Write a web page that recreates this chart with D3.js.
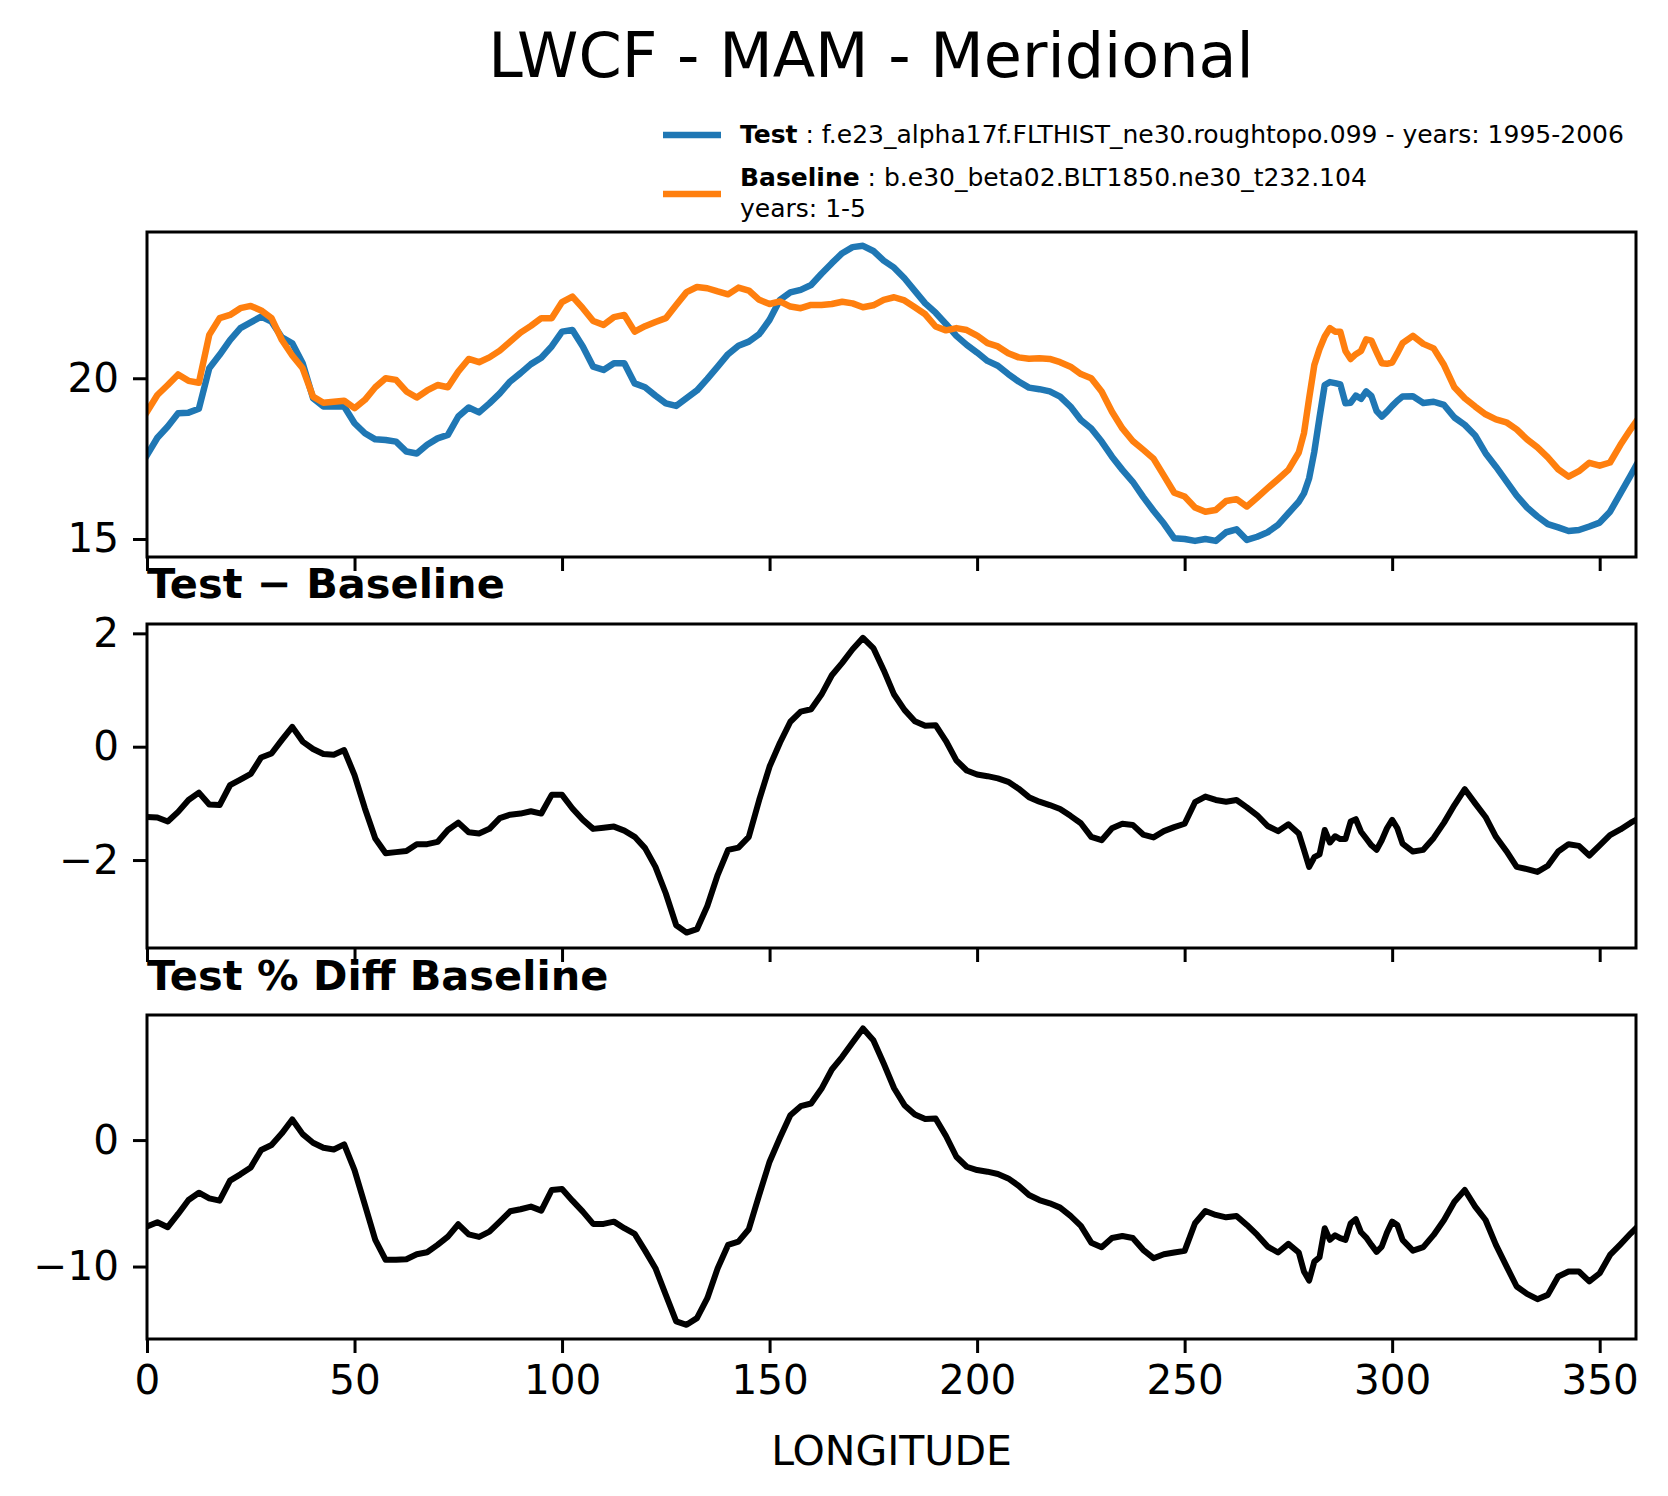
<!DOCTYPE html>
<html>
<head>
<meta charset="utf-8">
<script src="https://cdn.jsdelivr.net/npm/d3@7"></script>
<style>
  html, body { margin: 0; padding: 0; background: #ffffff; }
  svg { display: block; }
  text { font-family: "DejaVu Sans", sans-serif; fill: #000; }
</style>
</head>
<body>
<div id="chart"></div>
<script>
// ---------------- DATA ----------------
const lon = [
  0, 2.5, 5, 7.5, 10, 12.5, 15, 17.5, 20, 22.5,
  25, 27.5, 30, 32.5, 35, 37.5, 40, 42.5, 45, 47.5,
  50, 52.5, 55, 57.5, 60, 62.5, 65, 67.5, 70, 72.5,
  75, 77.5, 80, 82.5, 85, 87.5, 90, 92.5, 95, 97.5,
  100, 102.5, 105, 107.5, 110, 112.5, 115, 117.5, 120, 122.5,
  125, 127.5, 130, 132.5, 135, 137.5, 140, 142.5, 145, 147.5,
  150, 152.5, 155, 157.5, 160, 162.5, 165, 167.5, 170, 172.5,
  175, 177.5, 180, 182.5, 185, 187.5, 190, 192.5, 195, 197.5,
  200, 202.5, 205, 207.5, 210, 212.5, 215, 217.5, 220, 222.5,
  225, 227.5, 230, 232.5, 235, 237.5, 240, 242.5, 245, 247.5,
  250, 252.5, 255, 257.5, 260, 262.5, 265, 267.5, 270, 272.5,
  275,
  277.5, 278.75, 280, 281.25, 282.5, 283.75, 285, 286.25, 287.5, 288.75,
  290, 291.25, 292.5, 293.75, 295, 296.25, 297.5, 298.75, 300, 301.25,
  302.5,
  305, 307.5, 310, 312.5, 315, 317.5, 320, 322.5, 325, 327.5,
  330, 332.5, 335, 337.5, 340, 342.5, 345, 347.5, 350, 352.5,
  355, 357.5, 358.75
];

const testVals = [
  17.61, 18.15, 18.50, 18.91, 18.93, 19.05, 20.31, 20.73, 21.19, 21.56,
  21.74, 21.92, 21.76, 21.27, 21.09, 20.47, 19.38, 19.12, 19.12, 19.12,
  18.60, 18.29, 18.10, 18.08, 18.03, 17.72, 17.66, 17.93, 18.13, 18.24,
  18.81, 19.09, 18.94, 19.22, 19.53, 19.90, 20.16, 20.44, 20.64, 20.99,
  21.45, 21.50, 20.99, 20.36, 20.26, 20.47, 20.47, 19.84, 19.72, 19.46,
  19.22, 19.14, 19.38, 19.62, 19.98, 20.36, 20.75, 21.01, 21.14, 21.37,
  21.82, 22.44, 22.67, 22.75, 22.90, 23.25, 23.58, 23.89, 24.08, 24.12,
  23.96, 23.66, 23.44, 23.11, 22.72, 22.33, 22.04, 21.69, 21.32, 21.04,
  20.80, 20.54, 20.39, 20.13, 19.90, 19.71, 19.66, 19.59, 19.43, 19.12,
  18.70, 18.44, 18.03, 17.56, 17.15, 16.78, 16.31, 15.88, 15.48, 15.02,
  15.00, 14.94, 15.00, 14.94, 15.21, 15.30, 14.97, 15.07, 15.21, 15.44,
  15.80,
  16.16, 16.42, 16.89, 17.72, 18.78, 19.79, 19.88, 19.85, 19.81, 19.22,
  19.24, 19.46, 19.36, 19.59, 19.45, 18.98, 18.81, 18.96, 19.14, 19.30,
  19.43,
  19.44, 19.23, 19.27, 19.17, 18.78, 18.55, 18.22, 17.67, 17.25, 16.80,
  16.35, 15.98, 15.70, 15.46, 15.36, 15.25, 15.28, 15.39, 15.51, 15.85,
  16.42, 16.99, 17.28
];

const baselineVals = [
  18.96, 19.48, 19.79, 20.12, 19.92, 19.86, 21.35, 21.87, 21.97, 22.18,
  22.25, 22.11, 21.87, 21.19, 20.71, 20.31, 19.43, 19.24, 19.27, 19.30,
  19.07, 19.33, 19.72, 20.00, 19.95, 19.59, 19.40, 19.62, 19.79, 19.72,
  20.21, 20.60, 20.50, 20.65, 20.86, 21.14, 21.42, 21.63, 21.87, 21.87,
  22.37, 22.54, 22.18, 21.78, 21.66, 21.90, 21.97, 21.45, 21.62, 21.75,
  21.87, 22.28, 22.68, 22.84, 22.80, 22.70, 22.61, 22.82, 22.73, 22.44,
  22.31, 22.39, 22.23, 22.18, 22.28, 22.28, 22.31, 22.38, 22.33, 22.21,
  22.27, 22.44, 22.52, 22.42, 22.21, 21.99, 21.61, 21.49, 21.56, 21.50,
  21.33, 21.09, 20.99, 20.78, 20.65, 20.61, 20.62, 20.60, 20.50, 20.36,
  20.13, 20.00, 19.59, 18.96, 18.44, 18.05, 17.78, 17.50, 16.97, 16.44,
  16.32, 15.98, 15.85, 15.90, 16.18, 16.24, 16.01, 16.29, 16.58, 16.86,
  17.15,
  17.69, 18.29, 19.38, 20.41, 20.91, 21.30, 21.56, 21.45, 21.45, 20.85,
  20.60, 20.75, 20.85, 21.21, 21.17, 20.81, 20.47, 20.45, 20.49, 20.78,
  21.09,
  21.32, 21.07, 20.93, 20.41, 19.72, 19.38, 19.12, 18.88, 18.72, 18.63,
  18.41, 18.10, 17.85, 17.54, 17.17, 16.94, 17.11, 17.37, 17.28, 17.38,
  17.93, 18.42, 18.65
];

const diffVals = [
  -1.24, -1.25, -1.32, -1.15, -0.94, -0.81, -1.02, -1.03, -0.68, -0.58,
  -0.48, -0.19, -0.12, 0.12, 0.35, 0.09, -0.04, -0.13, -0.14, -0.06,
  -0.50, -1.09, -1.62, -1.88, -1.86, -1.84, -1.72, -1.72, -1.68, -1.47,
  -1.34, -1.51, -1.53, -1.45, -1.26, -1.20, -1.18, -1.14, -1.18, -0.85,
  -0.85, -1.09, -1.29, -1.45, -1.43, -1.41, -1.48, -1.59, -1.79, -2.12,
  -2.59, -3.15, -3.28, -3.22, -2.81, -2.26, -1.82, -1.78, -1.59, -0.94,
  -0.35, 0.07, 0.44, 0.62, 0.66, 0.92, 1.26, 1.48, 1.72, 1.92,
  1.74, 1.35, 0.92, 0.65, 0.45, 0.37, 0.38, 0.10, -0.24, -0.42,
  -0.49, -0.52, -0.56, -0.62, -0.74, -0.89, -0.97, -1.03, -1.10, -1.22,
  -1.35, -1.59, -1.65, -1.44, -1.36, -1.38, -1.55, -1.60, -1.49, -1.42,
  -1.36, -0.98, -0.88, -0.94, -0.97, -0.94, -1.07, -1.21, -1.40, -1.49,
  -1.37,
  -1.53, -1.82, -2.12, -1.95, -1.90, -1.47, -1.69, -1.58, -1.63, -1.63,
  -1.32, -1.28, -1.50, -1.62, -1.74, -1.82, -1.65, -1.44, -1.29, -1.44,
  -1.71,
  -1.85, -1.82, -1.61, -1.34, -1.03, -0.75, -1.00, -1.24, -1.59, -1.84,
  -2.12, -2.16, -2.21, -2.10, -1.85, -1.72, -1.75, -1.92, -1.74, -1.56,
  -1.46, -1.34, -1.29
];

const pctVals = [
  -6.84, -6.50, -6.89, -5.84, -4.74, -4.16, -4.61, -4.79, -3.21, -2.71,
  -2.16, -0.79, -0.39, 0.53, 1.63, 0.47, -0.21, -0.61, -0.74, -0.34,
  -2.37, -5.13, -7.89, -9.47, -9.47, -9.42, -9.03, -8.87, -8.29, -7.63,
  -6.66, -7.45, -7.66, -7.24, -6.45, -5.63, -5.47, -5.26, -5.58, -3.95,
  -3.87, -4.79, -5.66, -6.63, -6.63, -6.45, -6.97, -7.42, -8.74, -10.13,
  -12.24, -14.34, -14.61, -14.08, -12.50, -10.13, -8.29, -8.03, -7.05, -4.34,
  -1.71, 0.18, 1.97, 2.68, 2.89, 4.05, 5.58, 6.58, 7.71, 8.82,
  7.89, 6.05, 4.10, 2.76, 2.03, 1.66, 1.71, 0.32, -1.32, -2.11,
  -2.37, -2.50, -2.68, -3.03, -3.61, -4.34, -4.74, -5.00, -5.34, -6.00,
  -6.79, -8.11, -8.47, -7.74, -7.58, -7.74, -8.68, -9.34, -9.03, -8.89,
  -8.76, -6.58, -5.61, -5.92, -6.11, -6.00, -6.71, -7.50, -8.42, -8.89,
  -8.21,
  -8.89, -10.39, -11.11, -9.61, -9.26, -6.97, -7.89, -7.53, -7.76, -7.89,
  -6.58, -6.26, -7.29, -7.71, -8.29, -8.84, -8.42, -7.32, -6.45, -6.71,
  -7.89,
  -8.74, -8.47, -7.50, -6.32, -4.87, -3.95, -5.26, -6.32, -8.29, -9.95,
  -11.58, -12.16, -12.58, -12.24, -10.79, -10.39, -10.39, -11.18, -10.53, -9.08,
  -8.24, -7.37, -6.97
];

const xTicks = [0, 50, 100, 150, 200, 250, 300, 350];
const yTicksTop = [15, 20];
const yTicksDiff = [-2, 0, 2];
const yTicksPct = [-10, 0];

const titleText = "LWCF - MAM - Meridional";
const xLabel = "LONGITUDE";
const diffTitle = "Test \u2212 Baseline";
const pctTitle = "Test % Diff Baseline";
const legendTest = ["Test", " : f.e23_alpha17f.FLTHIST_ne30.roughtopo.099 - years: 1995-2006"];
const legendBase = ["Baseline", " : b.e30_beta02.BLT1850.ne30_t232.104"];
const legendBase2 = "years: 1-5";

// ---------------- LAYOUT ----------------
const W = 1668, H = 1496;
const left = 147, right = 1636;
const panels = [
  { top: 232, bottom: 557, domain: [14.44, 24.55], ticks: yTicksTop },
  { top: 624, bottom: 948, domain: [-3.552, 2.165], ticks: yTicksDiff },
  { top: 1015, bottom: 1339, domain: [-15.73, 9.89], ticks: yTicksPct }
];
const blue = "#1f77b4", orange = "#ff7f0e";
const fontPx = 40.5;
const subFont = 41.5;
const tickLen = 14, tickW = 3, spineW = 3;

const svg = d3.select("#chart").append("svg")
  .attr("width", W).attr("height", H)
  .attr("viewBox", `0 0 ${W} ${H}`);
svg.append("rect").attr("width", W).attr("height", H).attr("fill", "#fff");

const x = d3.scaleLinear().domain([0, 358.75]).range([left, right]);
const fmt = v => (v < 0 ? "\u2212" + Math.abs(v) : String(v));

function drawPanel(p, idx, series, showXLabels) {
  const y = d3.scaleLinear().domain(p.domain).range([p.bottom, p.top]);
  const g = svg.append("g");
  const clipId = "clip" + idx;
  svg.append("clipPath").attr("id", clipId)
    .append("rect").attr("x", left).attr("y", p.top)
    .attr("width", right - left).attr("height", p.bottom - p.top);

  const line = d3.line().x((d) => x(d[0])).y((d) => y(d[1]));
  series.forEach(s => {
    const pts = lon.map((l, i) => [l, s.vals[i]]);
    g.append("path").datum(pts)
      .attr("d", line)
      .attr("fill", "none")
      .attr("stroke", s.color)
      .attr("stroke-width", s.width)
      .attr("stroke-linejoin", "round")
      .attr("stroke-linecap", "square")
      .attr("clip-path", `url(#${clipId})`);
  });

  // frame
  g.append("rect").attr("x", left).attr("y", p.top)
    .attr("width", right - left).attr("height", p.bottom - p.top)
    .attr("fill", "none").attr("stroke", "#000").attr("stroke-width", spineW);

  // y axis ticks via d3 axis
  const yAxis = d3.axisLeft(y).tickValues(p.ticks).tickSize(tickLen).tickPadding(14).tickFormat(fmt);
  const ya = g.append("g").attr("transform", `translate(${left},0)`).call(yAxis);
  ya.select(".domain").remove();
  ya.selectAll(".tick line").attr("stroke", "#000").attr("stroke-width", tickW);
  ya.selectAll(".tick text").attr("font-size", fontPx).attr("font-family", "DejaVu Sans").attr("fill", "#000");

  // x axis ticks
  const xAxis = d3.axisBottom(x).tickValues(xTicks).tickSize(tickLen).tickPadding(12)
    .tickFormat(showXLabels ? d3.format("d") : () => "");
  const xa = g.append("g").attr("transform", `translate(0,${p.bottom})`).call(xAxis);
  xa.select(".domain").remove();
  xa.selectAll(".tick line").attr("stroke", "#000").attr("stroke-width", tickW);
  xa.selectAll(".tick text").attr("font-size", fontPx).attr("font-family", "DejaVu Sans").attr("fill", "#000");
  return y;
}

drawPanel(panels[0], 0, [
  { vals: testVals, color: blue, width: 6.5 },
  { vals: baselineVals, color: orange, width: 6.5 }
], false);
drawPanel(panels[1], 1, [{ vals: diffVals, color: "#000", width: 6 }], false);
drawPanel(panels[2], 2, [{ vals: pctVals, color: "#000", width: 6 }], true);

// titles
svg.append("text").attr("x", 871).attr("y", 77).attr("text-anchor", "middle")
  .attr("font-size", 62).text(titleText);
svg.append("text").attr("x", left).attr("y", 598).attr("font-size", subFont)
  .attr("font-weight", "bold").text(diffTitle);
svg.append("text").attr("x", left).attr("y", 990).attr("font-size", subFont)
  .attr("font-weight", "bold").text(pctTitle);
svg.append("text").attr("x", (left + right) / 2).attr("y", 1465).attr("text-anchor", "middle")
  .attr("font-size", 41).text(xLabel);

// legend
const legFont = 25;
const lg = svg.append("g");
lg.append("line").attr("x1", 663).attr("x2", 721).attr("y1", 135).attr("y2", 135)
  .attr("stroke", blue).attr("stroke-width", 6.5);
const t1 = lg.append("text").attr("x", 740).attr("y", 143).attr("font-size", legFont);
t1.append("tspan").attr("font-weight", "bold").text(legendTest[0]);
t1.append("tspan").text(legendTest[1]);
lg.append("line").attr("x1", 663).attr("x2", 721).attr("y1", 194).attr("y2", 194)
  .attr("stroke", orange).attr("stroke-width", 6.5);
const t2 = lg.append("text").attr("x", 740).attr("y", 186).attr("font-size", legFont);
t2.append("tspan").attr("font-weight", "bold").text(legendBase[0]);
t2.append("tspan").text(legendBase[1]);
lg.append("text").attr("x", 740).attr("y", 217).attr("font-size", legFont).text(legendBase2);
</script>
</body>
</html>
